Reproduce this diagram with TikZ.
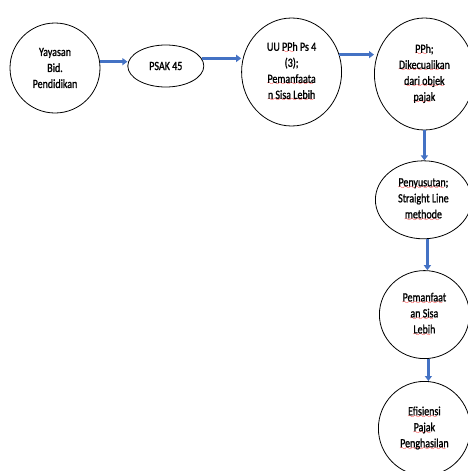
\documentclass[tikz,border=0pt]{standalone}
\usepackage{fontspec}
\setmainfont{Carlito}[FakeStretch=0.8,FakeBold=1.2]
\usepackage{tikz}
\usetikzlibrary{positioning,arrows.meta,shapes.geometric}

\definecolor{flowblue}{RGB}{68,114,196}
% red wavy underline, as the spell checker marks it
\font\wavefont=lasy8
\newcommand\spellmark[1]{\setbox0=\hbox{#1}%
    \rlap{\lower3pt\hbox to\wd0{\color{red}\leaders\hbox{\wavefont\char58}\hfill}}\box0\relax}

\begin{document}
\begin{tikzpicture}[
    x=1pt, y=-1pt,
    roundnode/.style={ellipse, draw=black, line width=0.8pt, inner sep=0pt, align=center,
        font=\fontsize{12.5}{16}\selectfont},
    flowarrow/.style={-{Triangle[length=5pt,width=7pt]}, draw=flowblue, line width=2.6pt}
    ]
        \useasboundingbox (0,0) rectangle (468,471);
        %Nodes
        \node[roundnode, minimum width=90pt, minimum height=90pt]
            (yay)   at (55,68)            {Yayasan\\Bid.\\Pendidikan};
        \node[roundnode, minimum width=76pt, minimum height=42pt]
            (psak)  [right=27pt of yay, yshift=2pt]  {PSAK 45};
        \node[roundnode, minimum width=100pt, minimum height=108pt]
            (uu)    [right=37pt of psak, yshift=-6pt]
            {UU \spellmark{PPh} Ps 4\\(3);\\\spellmark{Pemanfaata}\\\spellmark{n Sisa Lebih}};
        \node[roundnode, minimum width=100pt, minimum height=112pt]
            (pph)   [right=32pt of uu, yshift=-2pt]
            {\spellmark{PPh};\\\spellmark{Dikecualikan}\\\spellmark{dari objek}\\\spellmark{pajak}};
        \node[roundnode, minimum width=96pt, minimum height=78pt]
            (peny)  [below=30pt of pph, xshift=-1pt]
            {\spellmark{Penyusutan;}\\Straight Line\\\spellmark{methode}};
        \node[roundnode, minimum width=90pt, minimum height=88pt]
            (pem)   [below=31pt of peny, xshift=1pt]
            {\spellmark{Pemanfaat}\\\spellmark{an Sisa}\\\spellmark{Lebih}};
        \node[roundnode, minimum width=92pt, minimum height=94pt]
            (efi)   [below=22pt of pem]
            {\spellmark{Efisiensi}\\\spellmark{Pajak}\\\spellmark{Penghasilan}};

        %Lines
        \draw[flowarrow] (yay.8) -- (yay.8 -| psak.west);
        \draw[flowarrow] (psak.12) -- (psak.12 -| uu.west);
        \draw[flowarrow] (uu.20) -- (uu.20 -| pph.west);
        \draw[flowarrow] (pph.south) -- (pph.south |- peny.north);
        \draw[flowarrow] ([xshift=4pt]peny.south) -- ([xshift=4pt]peny.south |- pem.north);
        \draw[flowarrow] ([xshift=4pt]pem.south) -- ([xshift=4pt]pem.south |- efi.north);
    \end{tikzpicture}
\end{document}
